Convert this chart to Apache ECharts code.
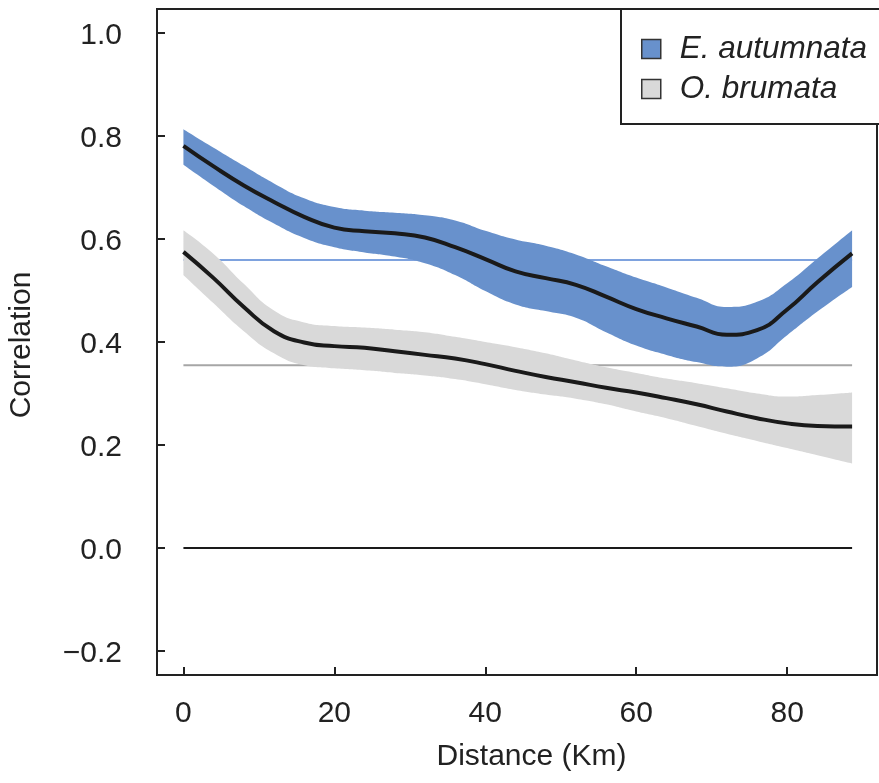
<!DOCTYPE html>
<html>
<head>
<meta charset="utf-8">
<script src="https://cdn.jsdelivr.net/npm/echarts@6/dist/echarts.min.js"></script>
<style>
html,body{margin:0;padding:0;background:#fff;}
#chart{width:879px;height:783px;}
</style>
</head>
<body>
<div id="chart"></div>
<script>
// Distance (Km)
const distance = [0,4,8,12,16,20,24,28,32,36,40,44,48,52,56,60,64,68,72,76,80,84,88.6];

// E. autumnata
const eaMean  = [0.781,0.741,0.704,0.672,0.643,0.622,0.615,0.611,0.603,0.584,0.561,0.537,0.524,0.511,0.488,0.464,0.446,0.430,0.414,0.423,0.463,0.516,0.572];
const eaUpper = [0.813,0.777,0.742,0.708,0.679,0.662,0.655,0.651,0.646,0.636,0.616,0.599,0.587,0.570,0.547,0.525,0.506,0.486,0.468,0.478,0.514,0.562,0.617];
const eaLower = [0.744,0.703,0.664,0.630,0.602,0.584,0.574,0.566,0.553,0.530,0.499,0.473,0.460,0.447,0.419,0.393,0.375,0.361,0.352,0.368,0.413,0.459,0.507];

// O. brumata
const obMean  = [0.575,0.524,0.468,0.421,0.399,0.392,0.389,0.382,0.375,0.368,0.357,0.344,0.332,0.322,0.311,0.302,0.291,0.279,0.265,0.252,0.242,0.237,0.236];
const obUpper = [0.617,0.571,0.513,0.461,0.438,0.431,0.428,0.424,0.419,0.410,0.400,0.390,0.378,0.364,0.351,0.340,0.329,0.320,0.310,0.300,0.294,0.297,0.302];
const obLower = [0.530,0.475,0.421,0.378,0.355,0.349,0.345,0.340,0.335,0.328,0.318,0.307,0.298,0.290,0.279,0.265,0.252,0.237,0.222,0.208,0.194,0.180,0.164];

// Reference (horizontal) levels
const refExtent = [0, 88.6];
const eaRef = 0.559;
const obRef = 0.355;
const zeroRef = 0;

const xTicks = [0,20,40,60,80];
const yTicks = [-0.2,0,0.2,0.4,0.6,0.8,1.0];

const seriesNames = ['E. autumnata','O. brumata'];

const BLUE = '#6891cc';
const GRAY = '#d9d9d9';
const FONT = 'Liberation Sans, Arial, sans-serif';
const SMOOTH = 0.5;

function pairs(xs, ys){ return xs.map((x,i)=>[x, ys[i]]); }
// value first, distance second (so the stack runs on the value dimension)
function pairsYX(xs, ys){ return xs.map((x,i)=>[ys[i], x]); }
function diff(a,b){ return a.map((v,i)=>+(v-b[i]).toFixed(4)); }

const chart = echarts.init(document.getElementById('chart'), null, {renderer:'canvas'});

const bandBase = {type:'line', smooth:SMOOTH, showSymbol:false, silent:true, z:2, encode:{x:1, y:0}, lineStyle:{opacity:0}};

const option = {
  animation:false,
  backgroundColor:'#fff',
  grid:{left:157, top:9, right:2, bottom:108, show:true, borderColor:'#222', borderWidth:2, backgroundColor:'transparent'},
  xAxis:{
    type:'value', min:-3.5, max:91.9,
    axisLine:{show:true, onZero:false, lineStyle:{color:'#222', width:2}},
    axisTick:{show:true, inside:true, length:8, lineStyle:{color:'#222', width:2}, customValues:xTicks},
    axisLabel:{show:true, margin:24, fontSize:30, fontFamily:FONT, color:'#222', customValues:xTicks},
    splitLine:{show:false}
  },
  yAxis:{
    type:'value', min:-0.2466, max:1.0466,
    axisLine:{show:true, onZero:false, lineStyle:{color:'#222', width:2}},
    axisTick:{show:true, inside:true, length:8, lineStyle:{color:'#222', width:2}, customValues:yTicks},
    axisLabel:{show:true, margin:35, fontSize:30, fontFamily:FONT, color:'#222', customValues:yTicks,
      formatter:v=> '{t|' + (v < -1e-9 ? '\u2212' : '') + Math.abs(v).toFixed(1) + '}',
      rich:{t:{fontSize:30, fontFamily:FONT, color:'#222', padding:[5,0,0,0]}}},
    splitLine:{show:false}
  },
  legend:{
    orient:'vertical', left:621, top:9, icon:'rect', itemWidth:19, itemHeight:19, itemGap:8,
    padding:[24,40,19,20], borderColor:'#222', borderWidth:2, backgroundColor:'#fff',
    selectedMode:false,
    textStyle:{fontFamily:FONT, fontStyle:'italic', fontSize:31.5, color:'#222', lineHeight:30, padding:[0,0,0,14]},
    data:[
      {name:seriesNames[0], itemStyle:{color:BLUE, borderColor:'#333', borderWidth:1.5}},
      {name:seriesNames[1], itemStyle:{color:GRAY, borderColor:'#333', borderWidth:1.5}}
    ]
  },
  graphic:[
    {type:'text', x:531.5, y:757, style:{text:'Distance (Km)', font:'30px '+FONT, fill:'#222', textAlign:'center', textVerticalAlign:'middle'}, silent:true},
    {type:'text', x:22, y:345, rotation:Math.PI/2, style:{text:'Correlation', font:'30px '+FONT, fill:'#222', textAlign:'center', textVerticalAlign:'middle'}, silent:true}
  ],
  series:[
    {type:'line', data:pairs(refExtent, [eaRef,eaRef]), showSymbol:false, silent:true, z:1, lineStyle:{color:'#7ea2de', width:2}},
    {type:'line', data:pairs(refExtent, [obRef,obRef]), showSymbol:false, silent:true, z:1, lineStyle:{color:'#a6a6a6', width:2}},
    {type:'line', data:pairs(refExtent, [zeroRef,zeroRef]), showSymbol:false, silent:true, z:1, lineStyle:{color:'#1a1a1a', width:2}},

    Object.assign({}, bandBase, {stack:'ob', data:pairsYX(distance, obLower)}),
    Object.assign({}, bandBase, {stack:'ob', name:seriesNames[1], data:pairsYX(distance, diff(obUpper, obLower)), areaStyle:{color:GRAY, opacity:1}}),

    Object.assign({}, bandBase, {stack:'ea', data:pairsYX(distance, eaLower)}),
    Object.assign({}, bandBase, {stack:'ea', name:seriesNames[0], data:pairsYX(distance, diff(eaUpper, eaLower)), areaStyle:{color:BLUE, opacity:1}}),

    {type:'line', data:pairs(distance, obMean), smooth:SMOOTH, showSymbol:false, silent:true, z:3, lineStyle:{color:'#1a1a1a', width:4}},
    {type:'line', data:pairs(distance, eaMean), smooth:SMOOTH, showSymbol:false, silent:true, z:3, lineStyle:{color:'#1a1a1a', width:4}}
  ]
};
chart.setOption(option);
</script>
</body>
</html>
